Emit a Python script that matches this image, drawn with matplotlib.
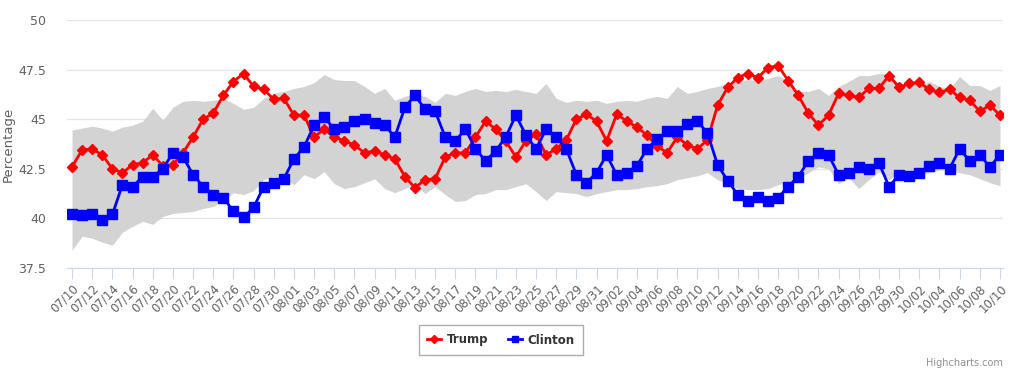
import datetime
import numpy as np
import matplotlib
matplotlib.use('Agg')
import matplotlib.pyplot as plt

# daily values 07/10 .. 10/10
start = datetime.date(2016, 7, 10)
dates = [start + datetime.timedelta(days=i) for i in range(93)]
date_labels = [d.strftime('%m/%d') for d in dates]

trump = [42.6, 43.45, 43.5, 43.2, 42.5, 42.3, 42.7, 42.8, 43.2, 42.65,
         42.7, 43.3, 44.1, 45.0, 45.3, 46.2, 46.9, 47.3, 46.65, 46.5,
         46.0, 46.05, 45.2, 45.2, 44.1, 44.5, 44.1, 43.9, 43.7, 43.3,
         43.4, 43.2, 43.0, 42.1, 41.55, 41.95, 42.0, 43.1, 43.3, 43.3,
         44.1, 44.9, 44.5, 43.9, 43.1, 43.9, 44.25, 43.2, 43.5, 43.95,
         45.0, 45.25, 44.9, 43.9, 45.25, 44.9, 44.6, 44.2, 43.65, 43.3,
         44.1, 43.7, 43.5, 43.95, 45.7, 46.6, 47.1, 47.3, 47.1, 47.6,
         47.7, 46.95, 46.2, 45.3, 44.7, 45.2, 46.3, 46.2, 46.1, 46.55,
         46.55, 47.2, 46.6, 46.8, 46.85, 46.5, 46.35, 46.5, 46.1, 45.95,
         45.4, 45.7, 45.2]

clinton = [40.2, 40.15, 40.2, 39.9, 40.2, 41.7, 41.6, 42.1, 42.1, 42.5,
           43.3, 43.1, 42.2, 41.6, 41.2, 41.05, 40.35, 40.05, 40.55, 41.6,
           41.8, 42.0, 43.0, 43.6, 44.7, 45.1, 44.5, 44.6, 44.9, 45.0,
           44.8, 44.7, 44.1, 45.6, 46.2, 45.5, 45.4, 44.1, 43.9, 44.5,
           43.5, 42.9, 43.4, 44.1, 45.2, 44.2, 43.5, 44.5, 44.1, 43.5,
           42.2, 41.8, 42.3, 43.2, 42.2, 42.3, 42.65, 43.5, 44.0, 44.4,
           44.4, 44.75, 44.9, 44.3, 42.7, 41.9, 41.2, 40.9, 41.1, 40.9,
           41.05, 41.6, 42.1, 42.9, 43.3, 43.2, 42.2, 42.3, 42.6, 42.5,
           42.8, 41.6, 42.2, 42.15, 42.3, 42.65, 42.8, 42.5, 43.5, 42.9,
           43.2, 42.6, 43.2]

band_high = [44.45, 44.55, 44.65, 44.55, 44.4, 44.6, 44.7, 44.9, 45.55, 44.95,
             45.6, 45.9, 45.95, 45.9, 45.95, 46.05, 45.8, 45.5, 45.6, 46.05,
             46.3, 46.4, 46.55, 46.65, 46.85, 47.25, 47.0, 46.95, 46.95, 46.65,
             46.3, 46.55, 45.95, 46.15, 46.3, 46.15, 45.85, 46.3, 46.2, 46.4,
             46.55, 46.4, 46.45, 46.4, 46.5, 46.4, 46.3, 46.8, 46.05, 45.85,
             45.95, 45.9, 45.95, 45.8, 45.9, 45.95, 45.9, 46.05, 46.15, 46.05,
             46.65, 46.3, 46.4, 46.55, 46.65, 46.8, 46.9, 47.0, 46.95, 47.05,
             47.2, 46.95, 46.4, 46.4, 46.55, 46.2, 46.65, 46.9, 47.2, 47.2,
             47.3, 47.3, 46.7, 46.8, 46.7, 46.9, 46.65, 46.55, 47.15, 46.7,
             46.7, 46.45, 46.7]

band_low = [38.4, 39.1, 39.0, 38.8, 38.65, 39.3, 39.6, 39.85, 39.7, 40.1,
            40.25, 40.3, 40.35, 40.5, 40.6, 40.9, 41.3, 41.2, 41.4, 41.95,
            42.1, 42.0, 41.7, 42.2, 42.0, 42.35, 41.75, 41.5, 41.6, 41.8,
            42.0, 41.5, 41.3, 41.5, 41.7, 41.25, 41.6, 41.2, 40.85, 40.9,
            41.2, 41.25, 41.45, 41.45, 41.6, 41.75, 41.35, 40.9, 41.35, 41.3,
            41.25, 41.1, 41.25, 41.35, 41.45, 41.45, 41.5, 41.6, 41.65, 41.75,
            41.95, 42.05, 42.15, 42.3, 41.95, 41.75, 41.5, 41.45, 41.45, 41.5,
            41.7, 41.8, 42.0, 42.3, 42.6, 42.5, 41.75, 42.05, 41.5, 41.95,
            42.35, 41.95, 42.3, 42.35, 42.2, 42.3, 42.45, 42.45, 42.3, 42.2,
            42.0, 41.8, 41.65]

x = np.arange(len(dates))

fig = plt.figure(figsize=(10.26, 3.79), dpi=100)
ax = fig.add_axes([67 / 1026, 1 - 268 / 379, 936 / 1026, 248 / 379])

ax.fill_between(x, band_low, band_high, color='#d3d3d3', linewidth=0, zorder=1)
ax.plot(x, trump, color='#ff0000', lw=2, marker='D', markersize=5, label='Trump', zorder=3)
ax.plot(x, clinton, color='#0000ff', lw=2, marker='s', markersize=6.5, label='Clinton', zorder=3)

ax.set_xlim(-0.5, 92.3)
ax.set_ylim(37.5, 50)
ax.set_yticks([37.5, 40, 42.5, 45, 47.5, 50])
ax.set_yticklabels(['37.5', '40', '42.5', '45', '47.5', '50'])
ax.yaxis.grid(True, color='#e6e6e6', lw=1)
ax.set_axisbelow(True)

ax.set_xticks(x[::2])
ax.set_xticklabels(date_labels[::2], rotation=45, ha='right', rotation_mode='anchor')

for side in ['top', 'right', 'left']:
    ax.spines[side].set_visible(False)
ax.spines['bottom'].set_color('#ccd6eb')
ax.tick_params(axis='x', colors='#ccd6eb', length=8, labelcolor='#606060', labelsize=8.5, pad=2)
ax.tick_params(axis='y', length=0, labelcolor='#606060', labelsize=9, pad=15)
ax.set_ylabel('Percentage', color='#606060', fontsize=9.5)
ax.yaxis.set_label_coords(-52 / 936, 0.5)

leg = fig.legend(loc='center', bbox_to_anchor=(501 / 1026, 1 - 340 / 379), ncol=2,
                 frameon=True, fancybox=False, edgecolor='#999999',
                 prop={'weight': 'bold', 'size': 8.5}, handlelength=1.2,
                 handletextpad=0.5, columnspacing=1.6, borderpad=0.7)
for t in leg.get_texts():
    t.set_color('#333333')
for h in leg.legend_handles:
    h.set_markersize(4)

fig.text(1003 / 1026, 1 - 363 / 379, 'Highcharts.com', ha='right', va='center',
         fontsize=7, color='#909090')

fig.savefig('out.png', dpi=100)
